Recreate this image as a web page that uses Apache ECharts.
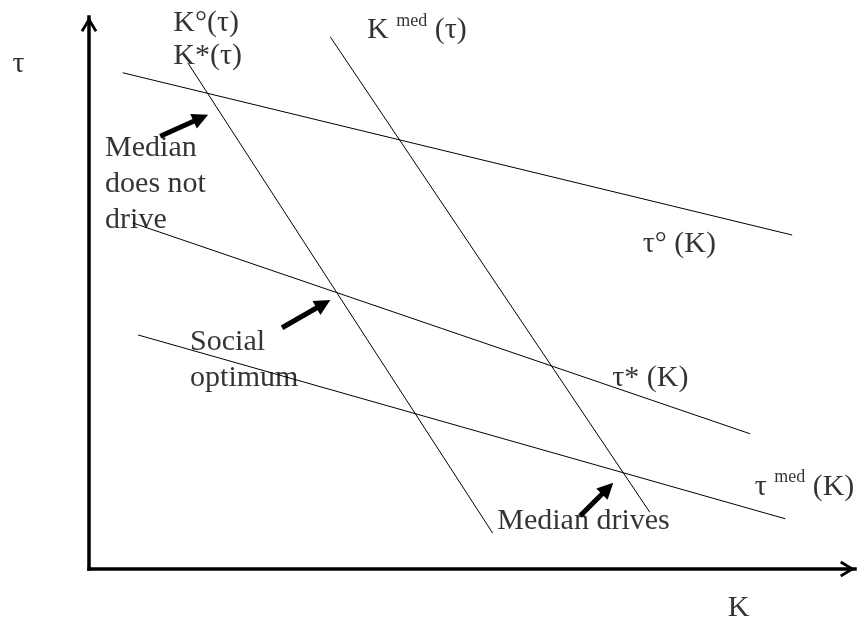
<!DOCTYPE html>
<html><head><meta charset="utf-8">
<script src="https://cdn.jsdelivr.net/npm/echarts@6/dist/echarts.min.js"></script>
<style>html,body{margin:0;padding:0;background:#fff}#c{width:859px;height:621px}</style>
</head><body><div id="c"></div>
<script>
// Diagram curves: end points as [K, tau] in diagram units (K 0..100, tau 0..100)
const tauCircle = [[4.4, 89.9], [91.8, 60.5]];   // τ°(K)
const tauStar   = [[5.7, 62.7], [86.3, 24.5]];   // τ*(K)
const tauMed    = [[6.4, 42.4], [90.9, 9.1]];    // τ med(K)
const kStar     = [[12.9, 91.7], [52.7, 6.5]];   // K°(τ) / K*(τ)
const kMed      = [[31.5, 96.4], [73.2, 10.3]];  // K med(τ)

// Pointer arrows: [tail, head] as [K, tau]
const arrowNotDrive = [[9.3, 78.4], [14.6, 81.7]];
const arrowOptimum  = [[25.2, 43.7], [30.6, 48.0]];
const arrowDrives   = [[64.1, 9.6], [67.7, 14.6]];

// Text labels and their anchors [K, tau]
const labelTexts   = ['τ', 'K°(τ)', 'K*(τ)', 'K {sup|med} (τ)', 'Median\ndoes not\ndrive',
                      'τ° (K)', 'Social\noptimum', 'τ* (K)', 'τ {sup|med} (K)', 'Median drives', 'K'];
const labelAnchors = [[-10.0, 91.4], [11.0, 98.9], [11.0, 92.9], [36.3, 97.6], [2.1, 69.8],
                      [72.3, 58.8], [13.2, 37.9], [68.3, 34.5], [86.9, 14.9], [53.3, 8.6], [83.4, -7.0]];

const FONT = "'Liberation Serif','Times New Roman',serif";
const chevron = 'path://M0,14 L8.5,0 L17,14 L14.5,15.5 L8.5,5.5 L2.5,15.5 Z';

function curve(pts) {
  return { type: 'line', data: pts, symbol: 'none', silent: true,
           lineStyle: { color: '#000', width: 1 }, z: 3 };
}

const chart = echarts.init(document.getElementById('c'), null, { renderer: 'canvas' });
chart.setOption({
  animation: false,
  backgroundColor: '#fff',
  grid: { left: 89, right: 4, top: 17, bottom: 52 },
  xAxis: {
    type: 'value', min: 0, max: 100,
    axisLine: { show: true, symbol: ['none', chevron], symbolSize: [17, 15], symbolOffset: [0, -7.5],
                lineStyle: { color: '#000', width: 3.5, cap: 'square' } },
    axisTick: { show: false }, axisLabel: { show: false }, splitLine: { show: false }
  },
  yAxis: {
    type: 'value', min: 0, max: 100,
    axisLine: { show: true, symbol: ['none', chevron], symbolSize: [17, 15], symbolOffset: [0, -7.5],
                lineStyle: { color: '#000', width: 3.5, cap: 'square' } },
    axisTick: { show: false }, axisLabel: { show: false }, splitLine: { show: false }
  },
  series: [
    curve(tauCircle), curve(tauStar), curve(tauMed), curve(kStar), curve(kMed),
    {
      type: 'lines', coordinateSystem: 'cartesian2d', silent: true, z: 5,
      symbol: ['none', 'triangle'], symbolSize: 16,
      lineStyle: { color: '#000', width: 5, opacity: 1, curveness: 0 },
      data: [arrowNotDrive, arrowOptimum, arrowDrives].map(a => ({ coords: a }))
    },
    {
      type: 'scatter', clip: false, silent: true, symbolSize: 1, z: 10,
      itemStyle: { color: 'rgba(0,0,0,0)' },
      data: labelAnchors.map((p, i) => ({ value: p, label: { formatter: labelTexts[i] } })),
      label: {
        show: true, position: 'inside', align: 'left', verticalAlign: 'middle',
        color: '#000', fontFamily: FONT, fontSize: 30, lineHeight: 36,
        rich: { sup: { fontFamily: FONT, fontSize: 18, verticalAlign: 'top', color: '#000', lineHeight: 30 } }
      }
    }
  ]
});
</script></body></html>
